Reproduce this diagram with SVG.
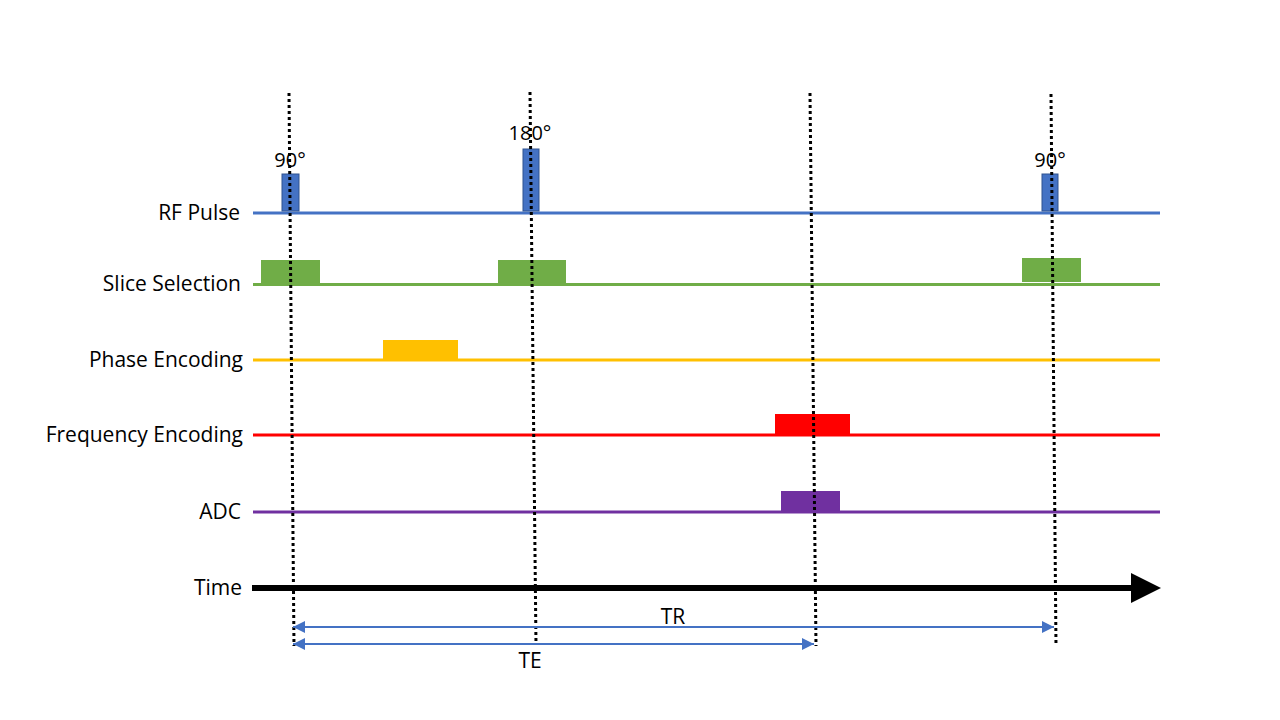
<svg xmlns="http://www.w3.org/2000/svg" width="1280" height="720" viewBox="0 0 1280 720">
<style>
text{font-family:"Open Sans","Liberation Sans",sans-serif;font-size:21px;fill:#000}
.lbl{text-anchor:end}
.mid{text-anchor:middle}
.deg{font-size:20px}
.dot{stroke:#000;stroke-width:3;stroke-dasharray:3 3;fill:none}
.dim{stroke:#4472C4;stroke-width:2;fill:none}
.pulse{fill:#4472C4;stroke:#2F528F;stroke-width:1}
</style>
<defs>
<marker id="ab" viewBox="0 0 10 10" refX="10" refY="5" markerWidth="6" markerHeight="6" orient="auto-start-reverse" markerUnits="strokeWidth">
<path d="M0,0 L10,5 L0,10 z" fill="#4472C4"/>
</marker>
</defs>
<rect width="1280" height="720" fill="#fff"/>
<g id="rf">
<text class="lbl" x="240" y="220">RF Pulse</text>
<line x1="253" y1="213" x2="1160" y2="213" stroke="#4472C4" stroke-width="3"/>
<rect class="pulse" x="282" y="174" width="17" height="37"/>
<rect class="pulse" x="523" y="149" width="16" height="62"/>
<rect class="pulse" x="1042" y="174" width="16" height="37"/>
<text class="mid deg" x="290" y="167">90°</text>
<text class="mid deg" x="530" y="140">180°</text>
<text class="mid deg" x="1050" y="167">90°</text>
</g>
<g id="slice">
<text class="lbl" x="241" y="291">Slice Selection</text>
<line x1="253" y1="284.5" x2="1160" y2="284.5" stroke="#70AD47" stroke-width="3"/>
<rect x="261" y="260" width="59" height="24" fill="#70AD47"/>
<rect x="498" y="260" width="68" height="24" fill="#70AD47"/>
<rect x="1022" y="258" width="59" height="24" fill="#70AD47"/>
</g>
<g id="phase">
<text class="lbl" x="243" y="367">Phase Encoding</text>
<line x1="253" y1="360" x2="1160" y2="360" stroke="#FFC000" stroke-width="3"/>
<rect x="383" y="340" width="75" height="20" fill="#FFC000"/>
</g>
<g id="freq">
<text class="lbl" x="243" y="442">Frequency Encoding</text>
<line x1="253" y1="435" x2="1160" y2="435" stroke="#FF0000" stroke-width="3"/>
<rect x="775" y="414" width="75" height="21" fill="#FF0000"/>
</g>
<g id="adc">
<text class="lbl" x="241" y="519">ADC</text>
<line x1="253" y1="512" x2="1160" y2="512" stroke="#7030A0" stroke-width="3"/>
<rect x="781" y="491" width="59" height="21" fill="#7030A0"/>
</g>
<g id="time">
<text class="lbl" x="242" y="595">Time</text>
<line x1="252" y1="588" x2="1134" y2="588" stroke="#000" stroke-width="6"/>
<path d="M1131,573 L1161,588 L1131,603 z" fill="#000"/>
</g>
<g id="connectors">
<line class="dot" x1="289" y1="93" x2="294" y2="646"/>
<line class="dot" x1="530" y1="92" x2="536" y2="645"/>
<line class="dot" x1="810" y1="93" x2="816" y2="646"/>
<line class="dot" x1="1051" y1="94" x2="1056" y2="646"/>
<line class="dim" x1="293" y1="627" x2="1054" y2="627" marker-start="url(#ab)" marker-end="url(#ab)"/>
<line class="dim" x1="293" y1="644" x2="814" y2="644" marker-start="url(#ab)" marker-end="url(#ab)"/>
<text class="mid" x="673" y="624">TR</text>
<text class="mid" x="530" y="668">TE</text>
</g>
</svg>
